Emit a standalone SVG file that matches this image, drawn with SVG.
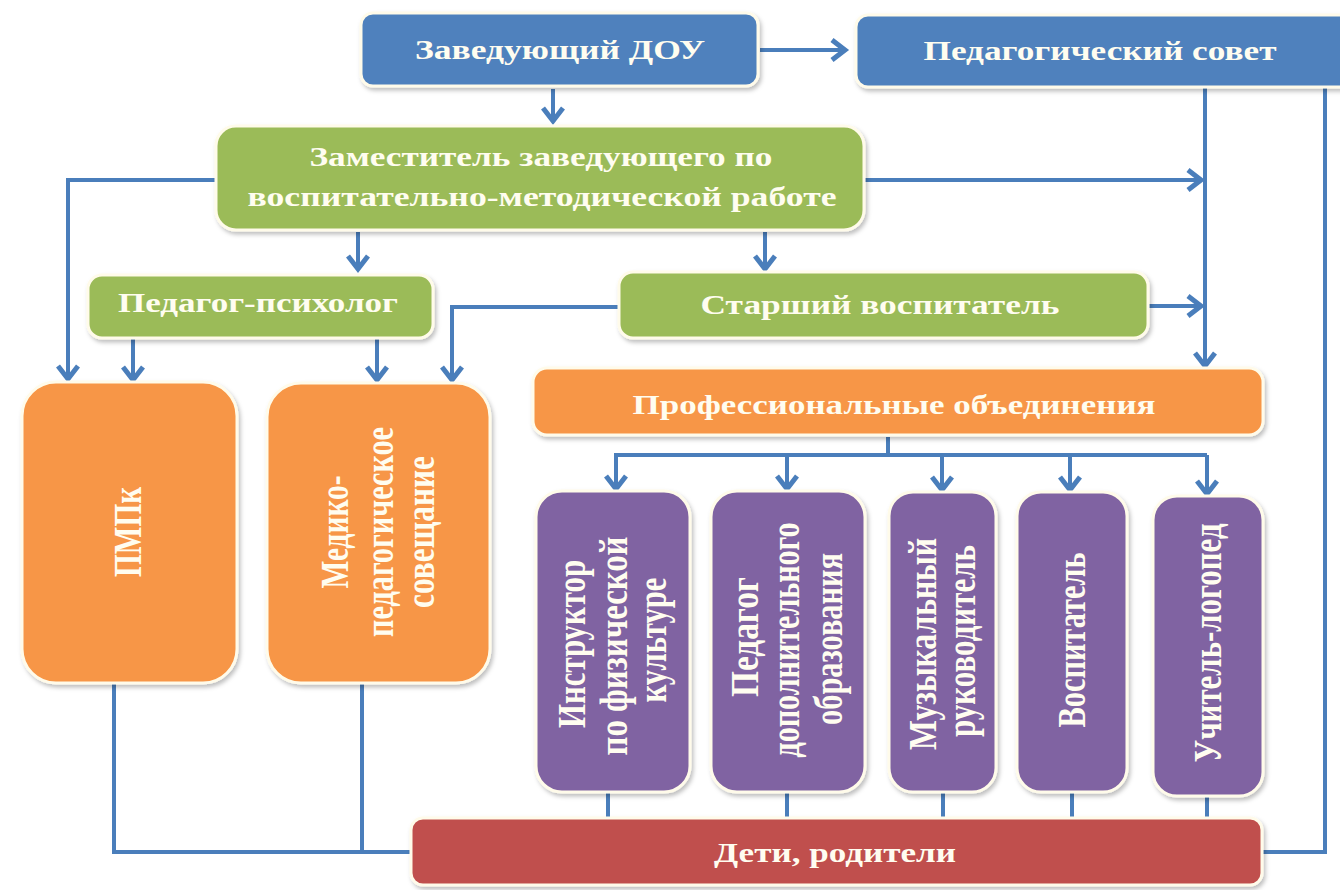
<svg xmlns="http://www.w3.org/2000/svg" width="1340" height="890" viewBox="0 0 1340 890">
<defs>
<filter id="sh" x="-10%" y="-10%" width="120%" height="130%">
<feDropShadow dx="2" dy="3" stdDeviation="2" flood-color="#000" flood-opacity="0.25"/>
</filter>
<marker id="ah" markerUnits="userSpaceOnUse" markerWidth="26" markerHeight="26" viewBox="0 0 26 26" refX="21" refY="13" orient="auto">
<path d="M8,3 L21,13 L8,23" fill="none" stroke="#4a7ebb" stroke-width="5"/>
</marker>
<style>
.box{stroke:#fffbea;stroke-width:3;filter:url(#sh)}
.blue{fill:#4f81bd}.green{fill:#9bbb59}.orange{fill:#f79646}.purple{fill:#8064a2}.red{fill:#c0504d}
.t{font-family:"Liberation Serif","Times New Roman",serif;font-weight:bold;fill:#fffdf0;text-anchor:middle}
.h{font-size:27px}
.v{font-size:30px;dominant-baseline:central}
.c{fill:none;stroke:#4a7ebb;stroke-width:4}
</style>
</defs>
<rect width="1340" height="890" fill="#ffffff"/>

<g id="connectors">
<path class="c" d="M760,50 H845" marker-end="url(#ah)"/>
<path class="c" d="M553,89 V121" marker-end="url(#ah)"/>
<path class="c" d="M216,180 H68 V379" marker-end="url(#ah)"/>
<path class="c" d="M864,180 H1201" marker-end="url(#ah)"/>
<path class="c" d="M1205,88 V366" marker-end="url(#ah)"/>
<path class="c" d="M1325,88 V852 H1263"/>
<path class="c" d="M358,232 V269" marker-end="url(#ah)"/>
<path class="c" d="M765,232 V269" marker-end="url(#ah)"/>
<path class="c" d="M619,307 H452 V380" marker-end="url(#ah)"/>
<path class="c" d="M1149,306 H1201" marker-end="url(#ah)"/>
<path class="c" d="M133,339 V380" marker-end="url(#ah)"/>
<path class="c" d="M377,339 V380" marker-end="url(#ah)"/>
<path class="c" d="M888,437 V455 M614,455 H1207"/>
<path class="c" d="M616,455 V489" marker-end="url(#ah)"/>
<path class="c" d="M787,455 V489" marker-end="url(#ah)"/>
<path class="c" d="M942,455 V490" marker-end="url(#ah)"/>
<path class="c" d="M1070,455 V490" marker-end="url(#ah)"/>
<path class="c" d="M1207,455 V494" marker-end="url(#ah)"/>
<path class="c" d="M608,793 V819 M787,793 V819 M943,793 V819 M1072,793 V819 M1207,797 V819"/>
<path class="c" d="M114,684 V852 H411"/>
<path class="c" d="M362,684 V852"/>
</g>

<g id="zaveduyushchiy">
<rect class="box blue" x="361" y="13" width="397" height="73" rx="12"/>
<text class="t h" x="560" y="59" textLength="290" lengthAdjust="spacingAndGlyphs">Заведующий ДОУ</text>
</g>
<g id="pedsovet">
<rect class="box blue" x="856" y="15" width="500" height="72" rx="12"/>
<text class="t h" x="1100" y="60" textLength="353" lengthAdjust="spacingAndGlyphs">Педагогический  совет</text>
</g>
<g id="zamestitel">
<rect class="box green" x="216" y="126" width="648" height="104" rx="20"/>
<text class="t h" x="541" y="166" textLength="463" lengthAdjust="spacingAndGlyphs">Заместитель заведующего по</text>
<text class="t h" x="542" y="206" textLength="589" lengthAdjust="spacingAndGlyphs">воспитательно-методической работе</text>
</g>
<g id="psiholog">
<rect class="box green" x="88" y="275" width="345" height="63" rx="14"/>
<text class="t h" x="258" y="312" textLength="280" lengthAdjust="spacingAndGlyphs">Педагог-психолог</text>
</g>
<g id="starshiy">
<rect class="box green" x="619" y="272" width="529" height="66" rx="14"/>
<text class="t h" x="880" y="314" textLength="359" lengthAdjust="spacingAndGlyphs">Старший воспитатель</text>
</g>
<g id="prof">
<rect class="box orange" x="533" y="368" width="730" height="67" rx="14"/>
<text class="t h" x="894" y="414" textLength="523" lengthAdjust="spacingAndGlyphs">Профессиональные объединения</text>
</g>
<g id="pmpk">
<rect class="box orange" x="22" y="382" width="215" height="301" rx="34"/>
<text class="t v" transform="translate(128,532) scale(1.3,1) rotate(-90)" textLength="90" lengthAdjust="spacingAndGlyphs">ПМПк</text>
</g>
<g id="mediko">
<rect class="box orange" x="267" y="383" width="223" height="300" rx="34"/>
<text class="t v" transform="translate(335,532) scale(1.3,1) rotate(-90)" textLength="113" lengthAdjust="spacingAndGlyphs">Медико-</text>
<text class="t v" transform="translate(380,532) scale(1.3,1) rotate(-90)" textLength="210" lengthAdjust="spacingAndGlyphs">педагогическое</text>
<text class="t v" transform="translate(421,532) scale(1.3,1) rotate(-90)" textLength="152" lengthAdjust="spacingAndGlyphs">совещание</text>
</g>
<g id="instruktor">
<rect class="box purple" x="536" y="491" width="154" height="301" rx="26"/>
<text class="t v" transform="translate(572,644) scale(1.3,1) rotate(-90)" textLength="168" lengthAdjust="spacingAndGlyphs">Инструктор</text>
<text class="t v" transform="translate(614,646) scale(1.3,1) rotate(-90)" textLength="219" lengthAdjust="spacingAndGlyphs">по физической</text>
<text class="t v" transform="translate(653,640) scale(1.3,1) rotate(-90)" textLength="125" lengthAdjust="spacingAndGlyphs">культуре</text>
</g>
<g id="pedagog-dop">
<rect class="box purple" x="711" y="491" width="154" height="301" rx="26"/>
<text class="t v" transform="translate(745,637) scale(1.3,1) rotate(-90)" textLength="120" lengthAdjust="spacingAndGlyphs">Педагог</text>
<text class="t v" transform="translate(786,640) scale(1.3,1) rotate(-90)" textLength="235" lengthAdjust="spacingAndGlyphs">дополнительного</text>
<text class="t v" transform="translate(829,639) scale(1.3,1) rotate(-90)" textLength="172" lengthAdjust="spacingAndGlyphs">образования</text>
</g>
<g id="muz">
<rect class="box purple" x="889" y="492" width="107" height="300" rx="24"/>
<text class="t v" transform="translate(923,644) scale(1.3,1) rotate(-90)" textLength="212" lengthAdjust="spacingAndGlyphs">Музыкальный</text>
<text class="t v" transform="translate(962,641) scale(1.3,1) rotate(-90)" textLength="192" lengthAdjust="spacingAndGlyphs">руководитель</text>
</g>
<g id="vospitatel">
<rect class="box purple" x="1017" y="492" width="110" height="300" rx="24"/>
<text class="t v" transform="translate(1072,640) scale(1.3,1) rotate(-90)" textLength="175" lengthAdjust="spacingAndGlyphs">Воспитатель</text>
</g>
<g id="logoped">
<rect class="box purple" x="1153" y="496" width="110" height="300" rx="24"/>
<text class="t v" transform="translate(1208,643) scale(1.3,1) rotate(-90)" textLength="239" lengthAdjust="spacingAndGlyphs">Учитель-логопед</text>
</g>
<g id="deti">
<rect class="box red" x="411" y="818" width="851" height="67" rx="12"/>
<text class="t h" x="835" y="862" textLength="242" lengthAdjust="spacingAndGlyphs">Дети, родители</text>
</g>
</svg>
